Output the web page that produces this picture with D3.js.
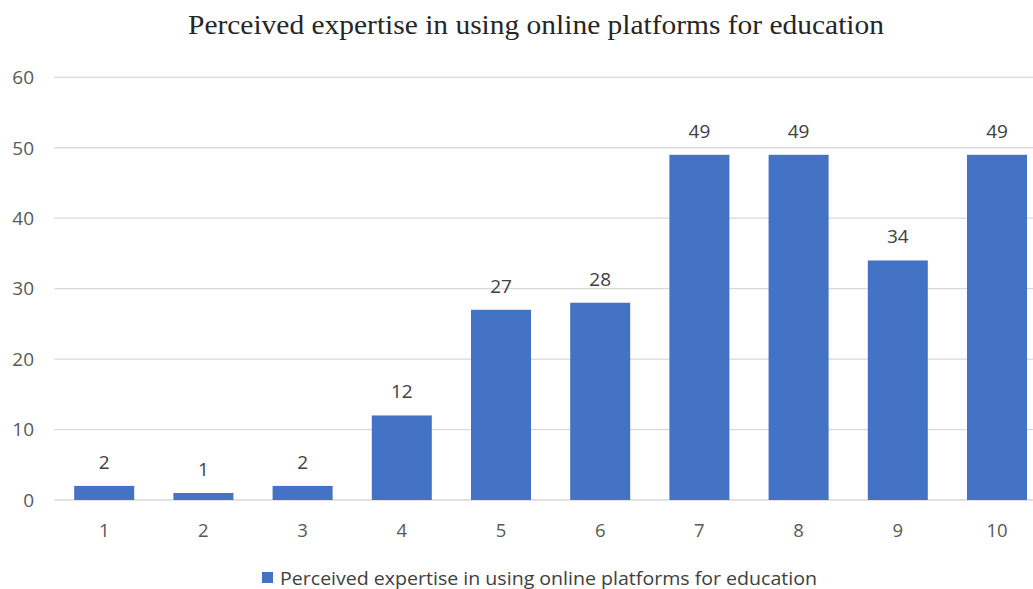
<!DOCTYPE html>
<html><head><meta charset="utf-8">
<script src="https://cdn.jsdelivr.net/npm/d3@7"></script>
<style>body{margin:0;background:#fff}svg{display:block}</style>
</head><body>
<script>
const categories = ["1","2","3","4","5","6","7","8","9","10"];
const values = [2,1,2,12,27,28,49,49,34,49];
const yTicks = [0,10,20,30,40,50,60];
const title = "Perceived expertise in using online platforms for education";
const seriesName = "Perceived expertise in using online platforms for education";

const W = 1033, H = 589;
const svg = d3.select("body").append("svg").attr("width", W).attr("height", H);

const x = d3.scaleBand().domain(categories).range([54.6, 1046.6]).paddingInner(0.395).paddingOuter(0.1975);
const y = d3.scaleLinear().domain([0, 60]).range([500, 77.3]);

// gridlines
svg.append("g").selectAll("line").data(yTicks).join("line")
  .attr("x1", 54.5).attr("x2", W)
  .attr("y1", d => y(d)).attr("y2", d => y(d))
  .attr("stroke", "#d9d9d9").attr("stroke-width", 1.3);

// y labels
svg.append("g").selectAll("text").data(yTicks).join("text")
  .attr("x", 34).attr("y", d => y(d)).attr("dy", "0.36em")
  .attr("text-anchor", "end")
  .attr("font-family", "'Open Sans', sans-serif").attr("font-size", 19)
  .attr("fill", "#595959").text(d => d);

// bars
svg.append("g").selectAll("rect").data(values).join("rect")
  .attr("x", (d, i) => x(categories[i])).attr("width", x.bandwidth())
  .attr("y", d => y(d)).attr("height", d => y(0) - y(d))
  .attr("fill", "#4472C4");

// data labels
svg.append("g").selectAll("text").data(values).join("text")
  .attr("x", (d, i) => x(categories[i]) + x.bandwidth() / 2)
  .attr("y", d => y(d) - 24).attr("dy", "0.36em")
  .attr("text-anchor", "middle")
  .attr("font-family", "'Open Sans', sans-serif").attr("font-size", 19)
  .attr("fill", "#404040").text(d => d);

// x labels
svg.append("g").selectAll("text").data(categories).join("text")
  .attr("x", d => x(d) + x.bandwidth() / 2).attr("y", 530).attr("dy", "0.36em")
  .attr("text-anchor", "middle")
  .attr("font-family", "'Open Sans', sans-serif").attr("font-size", 18.5)
  .attr("fill", "#595959").text(d => d);

// title
svg.append("text").attr("x", 536).attr("y", 34).attr("text-anchor", "middle")
  .attr("font-family", "'Liberation Serif', serif").attr("font-size", 27)
  .attr("textLength", 696).attr("lengthAdjust", "spacingAndGlyphs")
  .attr("fill", "#262626").text(title);

// legend
svg.append("rect").attr("x", 262).attr("y", 572).attr("width", 11).attr("height", 11).attr("fill", "#4472C4");
svg.append("text").attr("x", 280).attr("y", 578).attr("dy", "0.36em")
  .attr("font-family", "'Open Sans', sans-serif").attr("font-size", 18.5)
  .attr("textLength", 537).attr("lengthAdjust", "spacingAndGlyphs")
  .attr("fill", "#404040").text(seriesName);
</script>
</body></html>
